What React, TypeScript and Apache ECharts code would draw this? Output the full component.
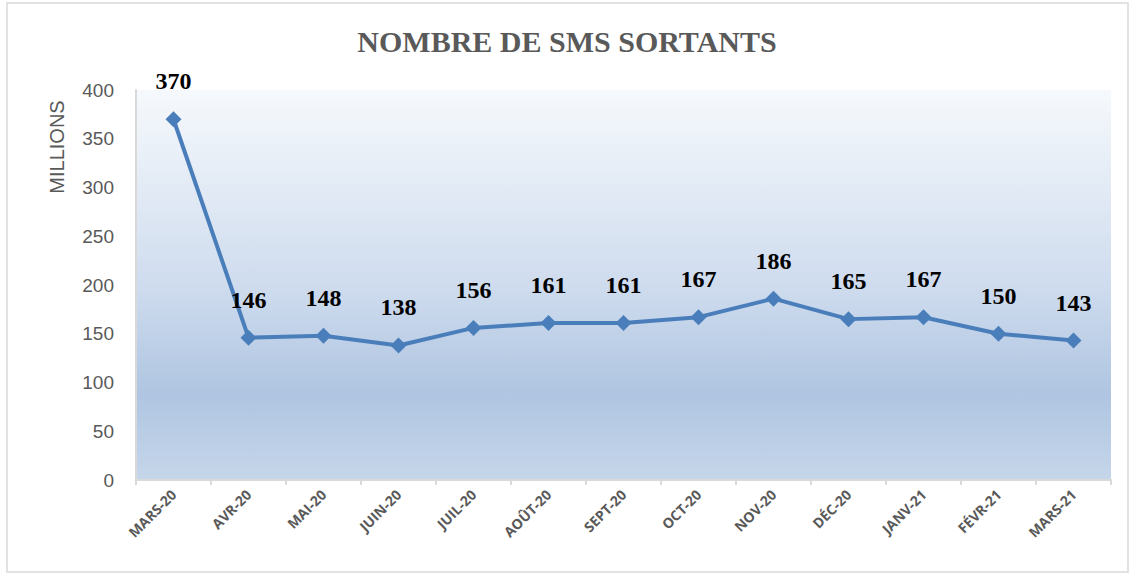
import React, { useEffect, useRef } from "react";
import * as echarts from "echarts";

const categories = ["MARS-20", "AVR-20", "MAI-20", "JUIN-20", "JUIL-20", "AOÛT-20", "SEPT-20", "OCT-20", "NOV-20", "DÉC-20", "JANV-21", "FÉVR-21", "MARS-21"];
const values = [370, 146, 148, 138, 156, 161, 161, 167, 186, 165, 167, 150, 143];
const titleText = "NOMBRE DE SMS SORTANTS";
const yName = "MILLIONS";

export default function App() {
  const ref = useRef<HTMLDivElement>(null);
  useEffect(() => {
    const chart = echarts.init(ref.current!, undefined, { renderer: "svg" });
    chart.setOption({
      animation: false,
      backgroundColor: "#ffffff",
      title: {
        text: titleText,
        left: "center",
        top: 21,
        textStyle: { fontFamily: "Liberation Serif", fontWeight: "bold", fontSize: 30, color: "#595959" },
      },
      graphic: [
        { type: "rect", shape: { x: 7, y: 3, width: 1121, height: 569 }, style: { fill: "none", stroke: "#d9d9d9", lineWidth: 1.5 }, z: -1 },
        { type: "text", x: 57, y: 147, rotation: Math.PI / 2, style: { text: yName, fontFamily: "Liberation Sans", fontSize: 20, fill: "#595959", textAlign: "center", textVerticalAlign: "middle" } },
      ],
      grid: {
        left: 136, right: 23, top: 90, bottom: 96, show: true, borderWidth: 0,
        backgroundColor: new echarts.graphic.LinearGradient(0, 0, 0, 1, [
          { offset: 0, color: "#f6f9fc" },
          { offset: 0.5, color: "#cfdcee" },
          { offset: 0.78, color: "#afc5e1" },
          { offset: 1, color: "#c6d6ea" },
        ]),
      },
      xAxis: {
        type: "category",
        data: categories,
        boundaryGap: true,
        axisLine: { lineStyle: { color: "#d9d9d9", width: 2 } },
        axisTick: { show: true, length: 5, lineStyle: { color: "#d9d9d9", width: 2 } },
        axisLabel: { rotate: 45, interval: 0, fontFamily: "Open Sans", fontWeight: "bold", fontSize: 14, color: "#595959", margin: 12 },
      },
      yAxis: {
        type: "value",
        min: 0, max: 400, interval: 50,
        axisLine: { show: true, lineStyle: { color: "#d9d9d9", width: 2 } },
        axisTick: { show: false },
        splitLine: { show: false },
        axisLabel: { fontFamily: "Liberation Sans", fontSize: 19, color: "#595959", margin: 22 },
      },
      series: [
        {
          type: "line",
          data: values,
          symbol: "diamond",
          symbolSize: 16,
          lineStyle: { color: "#4a7ebb", width: 4 },
          itemStyle: { color: "#4a7ebb" },
          label: { show: true, position: "top", distance: 18, fontFamily: "Liberation Serif", fontWeight: "bold", fontSize: 24, color: "#000000" },
        },
      ],
    });
    return () => chart.dispose();
  }, []);
  return <div ref={ref} style={{ position: "fixed", left: 0, top: 0, width: 1134, height: 576 }} />;
}
